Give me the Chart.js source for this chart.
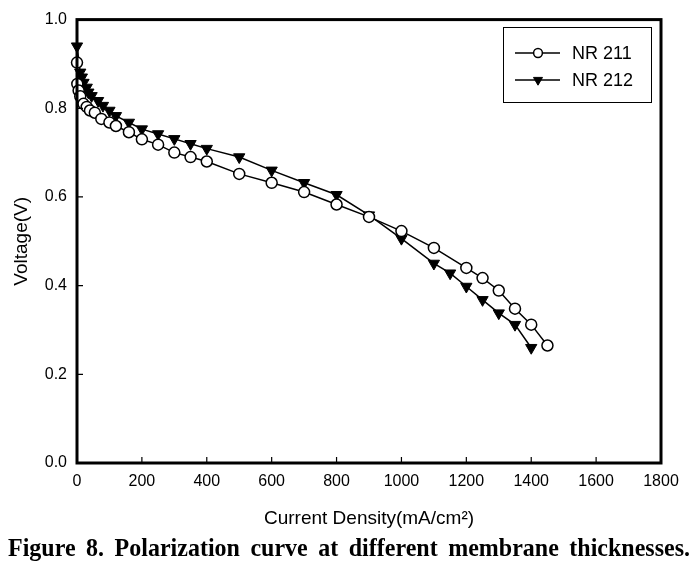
<!DOCTYPE html>
<html>
<head>
<meta charset="utf-8">
<script src="https://cdn.jsdelivr.net/npm/chart.js@4/dist/chart.umd.min.js"></script>
<style>
  html, body { margin: 0; padding: 0; background: #fff; }
  #wrap { position: relative; width: 698px; height: 577px; }
  #caption {
    position: absolute; left: 8px; top: 533px; width: 682px;
    font: bold 24px "Liberation Serif", "Times New Roman", serif;
    text-align: justify; text-align-last: justify; color: #000;
    transform: scaleY(1.08); transform-origin: top left;
  }
</style>
</head>
<body>
<div id="wrap">
  <canvas id="chart" width="698" height="577"></canvas>
  <div id="caption">Figure 8. Polarization curve at different membrane thicknesses.</div>
</div>
<script>
'use strict';

// current density (mA/cm2) and voltage (V)
var nr211Current = [0, 1, 5, 10, 20, 30, 40, 55, 75, 100, 120, 160, 200, 250, 300, 350, 400,
  500, 600, 700, 800, 900, 1000, 1100, 1200, 1250, 1300, 1350, 1400, 1450];
var nr211Voltage = [0.903, 0.855, 0.840, 0.827, 0.810, 0.803, 0.795, 0.790, 0.776, 0.768, 0.760,
  0.746, 0.730, 0.718, 0.700, 0.690, 0.680, 0.652, 0.632, 0.611, 0.583, 0.555, 0.523, 0.485,
  0.440, 0.417, 0.389, 0.348, 0.312, 0.265];

var nr212Current = [0, 10, 15, 20, 30, 35, 45, 65, 80, 100, 120, 160, 200, 250, 300, 350, 400,
  500, 600, 700, 800, 900, 1000, 1100, 1150, 1200, 1250, 1300, 1350, 1400];
var nr212Voltage = [0.940, 0.881, 0.870, 0.858, 0.847, 0.836, 0.828, 0.817, 0.806, 0.795, 0.783,
  0.768, 0.753, 0.742, 0.731, 0.720, 0.709, 0.690, 0.660, 0.632, 0.605, 0.559, 0.506, 0.450,
  0.428, 0.398, 0.368, 0.338, 0.312, 0.260];

var seriesLabels = ['NR 211', 'NR 212'];
var xTicks = [0, 200, 400, 600, 800, 1000, 1200, 1400, 1600, 1800];
var yTicks = [0.0, 0.2, 0.4, 0.6, 0.8, 1.0];

function toPoints(xs, ys) {
  return xs.map(function(x, i) { return { x: x, y: ys[i] }; });
}

// frame round the plot and short ticks pointing inwards
var framePlugin = {
  id: 'frame',
  afterDatasetsDraw: function(chart) {
    var ctx = chart.ctx;
    var a = chart.chartArea;
    var xs = chart.scales.x;
    var ys = chart.scales.y;
    ctx.save();
    ctx.strokeStyle = '#000';
    ctx.lineWidth = 1.2;
    ctx.beginPath();
    xTicks.forEach(function(v) {
      var px = xs.getPixelForValue(v);
      ctx.moveTo(px, a.bottom);
      ctx.lineTo(px, a.bottom - 6);
    });
    yTicks.forEach(function(v) {
      var py = ys.getPixelForValue(v);
      ctx.moveTo(a.left, py);
      ctx.lineTo(a.left + 6, py);
    });
    ctx.stroke();
    ctx.lineWidth = 3;
    ctx.strokeRect(a.left, a.top, a.right - a.left, a.bottom - a.top);
    ctx.restore();
  }
};

// boxed legend in the top right corner
var legendBoxPlugin = {
  id: 'legendBox',
  afterDraw: function(chart) {
    var ctx = chart.ctx;
    ctx.save();
    ctx.strokeStyle = '#000';
    ctx.lineWidth = 1;
    ctx.strokeRect(503.5, 27.5, 148, 75);
    ctx.font = '18px "Liberation Sans", Arial, sans-serif';
    ctx.textBaseline = 'middle';
    ctx.fillStyle = '#000';
    chart.data.datasets.forEach(function(ds, i) {
      var y = 53 + i * 27;
      ctx.lineWidth = 1.5;
      ctx.beginPath();
      ctx.moveTo(515, y);
      ctx.lineTo(560, y);
      ctx.stroke();
      ctx.fillStyle = ds.pointBackgroundColor;
      ctx.strokeStyle = '#000';
      ctx.lineWidth = ds.pointBorderWidth;
      Chart.helpers.drawPoint(ctx, {
        pointStyle: ds.pointStyle,
        rotation: ds.pointRotation,
        radius: ds.pointRadius * 0.8,
        borderWidth: ds.pointBorderWidth
      }, 538, y);
      ctx.fillStyle = '#000';
      ctx.fillText(ds.label, 572, y + 1);
    });
    ctx.restore();
  }
};

var ctx = document.getElementById('chart').getContext('2d');

var chart = new Chart(ctx, {
  type: 'line',
  data: {
    datasets: [{
      label: seriesLabels[0],
      data: toPoints(nr211Current, nr211Voltage),
      borderColor: '#000',
      borderWidth: 1.5,
      pointStyle: 'circle',
      pointRadius: 5.5,
      pointBorderWidth: 1.5,
      pointBackgroundColor: '#fff',
      pointBorderColor: '#000',
      clip: false,
      order: 1
    }, {
      label: seriesLabels[1],
      data: toPoints(nr212Current, nr212Voltage),
      borderColor: '#000',
      borderWidth: 1.5,
      pointStyle: 'triangle',
      pointRotation: 180,
      pointRadius: 6.5,
      pointBorderWidth: 1,
      pointBackgroundColor: '#000',
      pointBorderColor: '#000',
      clip: false,
      order: 2
    }]
  },
  options: {
    responsive: false,
    animation: false,
    layout: { padding: { top: 17, right: 37, left: 0, bottom: 47 } },
    plugins: {
      legend: { display: false },
      tooltip: { enabled: false }
    },
    scales: {
      x: {
        type: 'linear',
        min: 0,
        max: 1800,
        afterBuildTicks: function(scale) {
          scale.ticks = xTicks.map(function(v) { return { value: v }; });
        },
        grid: { display: false, drawTicks: false },
        border: { display: false },
        ticks: {
          padding: 9,
          color: '#000',
          maxRotation: 0,
          font: { family: '"Liberation Sans", Arial, sans-serif', size: 16 },
          callback: function(v) { return String(v); }
        },
        title: {
          display: true,
          text: 'Current Density(mA/cm\u00B2)',
          color: '#000',
          padding: { top: 0, bottom: 0 },
          font: { family: '"Liberation Sans", Arial, sans-serif', size: 19 }
        },
        afterFit: function(scale) { scale.height = 67; }
      },
      y: {
        type: 'linear',
        min: 0,
        max: 1,
        afterBuildTicks: function(scale) {
          scale.ticks = yTicks.map(function(v) { return { value: v }; });
        },
        grid: { display: false, drawTicks: false },
        border: { display: false },
        ticks: {
          padding: 10,
          color: '#000',
          font: { family: '"Liberation Sans", Arial, sans-serif', size: 16 },
          callback: function(v) { return v.toFixed(1); }
        },
        title: {
          display: true,
          text: 'Voltage(V)',
          color: '#000',
          padding: { top: 10, bottom: 0 },
          font: { family: '"Liberation Sans", Arial, sans-serif', size: 19 }
        },
        afterFit: function(scale) { scale.width = 77; }
      }
    }
  },
  plugins: [framePlugin, legendBoxPlugin]
});
</script>
</body>
</html>
